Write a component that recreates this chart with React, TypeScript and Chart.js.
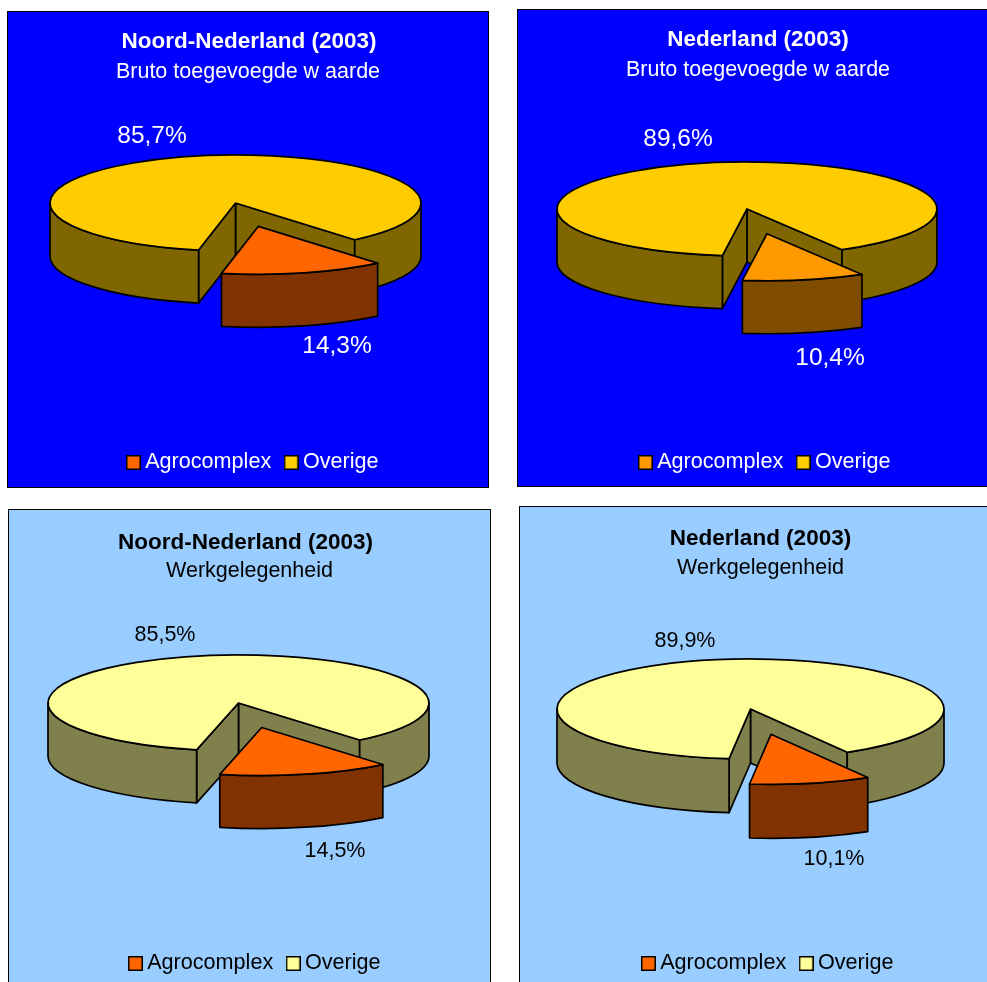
import React, { useEffect, useRef } from "react";
import { Chart, registerables } from "chart.js";

Chart.register(...registerables);

const categories = ["Agrocomplex", "Overige"];
const noordToegevoegd = [14.3, 85.7];
const nederlandToegevoegd = [10.4, 89.6];
const noordWerk = [14.5, 85.5];
const nederlandWerk = [10.1, 89.9];

const FONT = '"Liberation Sans", Arial, sans-serif';

const panels = [
  {
    values: noordToegevoegd, title: "Noord-Nederland (2003)", subtitle: "Bruto toegevoegde w aarde",
    box: { x: 7, y: 11, w: 482, h: 477 }, bg: "#0000FF", ink: "#FFFFFF",
    top: ["#FF6600", "#FFCC00"], wall: ["#803300", "#7F6600"],
    cx: 235.5, cy: 203, rx: 185.5, ry: 48, depth: 53, rotation: 140, explode: 93,
    labelFont: 24.5, labelPos: [[337, 346], [152, 136]],
    titleDx: 1, titleTop: 17.5, subTop: 4, legendDx: 7.5, legendY: 458,
  },
  {
    values: nederlandToegevoegd, title: "Nederland (2003)", subtitle: "Bruto toegevoegde w aarde",
    box: { x: 517, y: 9, w: 482, h: 478 }, bg: "#0000FF", ink: "#FFFFFF",
    top: ["#FF9900", "#FFCC00"], wall: ["#7F4C00", "#7F6600"],
    cx: 747, cy: 209, rx: 190, ry: 47, depth: 53, rotation: 150, explode: 102,
    labelFont: 24.5, labelPos: [[830, 358], [678, 139]],
    titleDx: 0, titleTop: 17.5, subTop: 4, legendDx: 9.5, legendY: 458,
  },
  {
    values: noordWerk, title: "Noord-Nederland (2003)", subtitle: "Werkgelegenheid",
    box: { x: 8, y: 509, w: 483, h: 480 }, bg: "#99CCFF", ink: "#000000",
    top: ["#FF6600", "#FFFF99"], wall: ["#803300", "#80804C"],
    cx: 238.5, cy: 703, rx: 190.5, ry: 48, depth: 53, rotation: 140.5, explode: 100,
    labelFont: 21.5, labelPos: [[335, 851], [165, 635]],
    titleDx: -4, titleTop: 20, subTop: 2, legendDx: 8, legendY: 959,
  },
  {
    values: nederlandWerk, title: "Nederland (2003)", subtitle: "Werkgelegenheid",
    box: { x: 519, y: 506, w: 483, h: 480 }, bg: "#99CCFF", ink: "#000000",
    top: ["#FF6600", "#FFFF99"], wall: ["#803300", "#80804C"],
    cx: 750.5, cy: 709, rx: 193.5, ry: 50, depth: 54, rotation: 150, explode: 100,
    labelFont: 21.5, labelPos: [[834, 859], [685, 641]],
    titleDx: 0, titleTop: 19, subTop: 3, legendDx: 10, legendY: 959,
  },
];

type Panel = (typeof panels)[number];

function swatch(color: string) {
  const c = document.createElement("canvas");
  c.width = 15;
  c.height = 15;
  const g = c.getContext("2d")!;
  g.fillStyle = color;
  g.fillRect(0, 0, 15, 15);
  g.strokeStyle = "#000";
  g.lineWidth = 1.5;
  g.strokeRect(0.75, 0.75, 13.5, 13.5);
  return c;
}

const pie3d = {
  id: "pie3d",
  afterLayout(chart: any, _a: any, o: any) {
    const p: Panel = o.panel;
    for (const b of chart.boxes) {
      if (b === chart.legend) {
        b.left += p.legendDx;
        b.right += p.legendDx;
        const h = b.bottom - b.top;
        const t = p.legendY - p.box.y - h / 2;
        b.top = t;
        b.bottom = t + h;
      } else if (b.options && b.options.text === p.title) {
        b.left += p.titleDx;
        b.right += p.titleDx;
      }
    }
  },
  beforeDatasetsDraw(chart: any, _a: any, o: any) {
    const p: Panel = o.panel;
    const ctx: CanvasRenderingContext2D = chart.ctx;
    const arcs = chart.getDatasetMeta(0).data;
    const cx = p.cx - p.box.x;
    const cy = p.cy - p.box.y;
    const k = p.ry / p.rx;
    const d = p.depth;
    ctx.lineWidth = 1.7;
    ctx.lineJoin = "round";
    ctx.strokeStyle = "#000";

    const drawArc = (arc: any, i: number, exploded: boolean) => {
      const s = arc.startAngle;
      const e = arc.endAngle;
      const mid = (s + e) / 2;
      const off = exploded ? p.explode : 0;
      const x = cx + Math.cos(mid) * off;
      const y = cy + Math.sin(mid) * off * k;
      const rx = arc.outerRadius;
      const ry = rx * k;
      ctx.fillStyle = p.wall[i];
      const quad = (a: number) => {
        const ex = x + rx * Math.cos(a);
        const ey = y + ry * Math.sin(a);
        ctx.beginPath();
        ctx.moveTo(x, y);
        ctx.lineTo(ex, ey);
        ctx.lineTo(ex, ey + d);
        ctx.lineTo(x, y + d);
        ctx.closePath();
        ctx.fill();
        ctx.stroke();
      };
      if (!exploded) {
        quad(e);
        quad(s);
      }
      for (let n = -1; n <= 2; n++) {
        const a0 = Math.max(s, n * 2 * Math.PI);
        const a1 = Math.min(e, n * 2 * Math.PI + Math.PI);
        if (a1 <= a0) continue;
        ctx.beginPath();
        ctx.ellipse(x, y, rx, ry, 0, a0, a1);
        ctx.ellipse(x, y + d, rx, ry, 0, a1, a0, true);
        ctx.closePath();
        ctx.fill();
        ctx.stroke();
      }
      ctx.save();
      ctx.translate(x, y);
      ctx.scale(1, k);
      ctx.translate(-arc.x, -arc.y);
      arc.draw(ctx);
      ctx.restore();
      ctx.beginPath();
      ctx.moveTo(x, y);
      ctx.ellipse(x, y, rx, ry, 0, s, e);
      ctx.closePath();
      ctx.stroke();
    };

    drawArc(arcs[1], 1, false);
    drawArc(arcs[0], 0, true);
    return false;
  },
  afterDraw(chart: any, _a: any, o: any) {
    const p: Panel = o.panel;
    const ctx: CanvasRenderingContext2D = chart.ctx;
    ctx.save();
    ctx.font = `${p.labelFont}px ${FONT}`;
    ctx.fillStyle = p.ink;
    ctx.textAlign = "center";
    ctx.textBaseline = "middle";
    chart.data.datasets[0].data.forEach((v: number, i: number) => {
      const [lx, ly] = p.labelPos[i];
      ctx.fillText(`${v.toFixed(1).replace(".", ",")}%`, lx - p.box.x, ly - p.box.y);
    });
    ctx.restore();
  },
};

function PieChart({ panel }: { panel: Panel }) {
  const ref = useRef<HTMLCanvasElement>(null);
  useEffect(() => {
    const chart = new Chart(ref.current!, {
      type: "pie",
      data: {
        labels: categories,
        datasets: [{ data: panel.values, backgroundColor: panel.top, borderWidth: 0 }],
      },
      plugins: [pie3d as any],
      options: {
        animation: false,
        responsive: false,
        events: [],
        rotation: panel.rotation,
        radius: panel.rx,
        plugins: {
          pie3d: { panel },
          tooltip: { enabled: false },
          title: {
            display: true,
            text: panel.title,
            color: panel.ink,
            font: { family: FONT, size: 22.5, weight: "bold", lineHeight: 1.2 },
            padding: { top: panel.titleTop, bottom: 0 },
          },
          subtitle: {
            display: true,
            text: panel.subtitle,
            color: panel.ink,
            font: { family: FONT, size: 21.5, weight: "normal", lineHeight: 1.2 },
            padding: { top: panel.subTop, bottom: 0 },
          },
          legend: {
            position: "bottom",
            labels: {
              font: { family: FONT, size: 21.6 },
              color: panel.ink,
              usePointStyle: true,
              pointStyleWidth: 2,
              padding: 19,
              generateLabels: (c: any) =>
                c.data.labels.map((text: string, i: number) => ({
                  text,
                  index: i,
                  hidden: false,
                  fontColor: panel.ink,
                  pointStyle: swatch(panel.top[i]),
                })),
            },
          },
        },
      } as any,
    });
    return () => chart.destroy();
  }, [panel]);
  const { x, y, w, h } = panel.box;
  return (
    <div
      style={{
        position: "absolute", left: x, top: y, width: w, height: h, boxSizing: "border-box",
        background: panel.bg, border: "1px solid #000",
      }}
    >
      <canvas
        ref={ref}
        width={w}
        height={h}
        style={{ position: "absolute", left: -1, top: -1, width: w, height: h }}
      />
    </div>
  );
}

export default function App() {
  return (
    <div style={{ position: "fixed", left: 0, top: 0, width: 987, height: 982, overflow: "hidden", background: "#fff" }}>
      {panels.map((p) => (
        <PieChart key={p.box.x + "-" + p.box.y} panel={p} />
      ))}
    </div>
  );
}
